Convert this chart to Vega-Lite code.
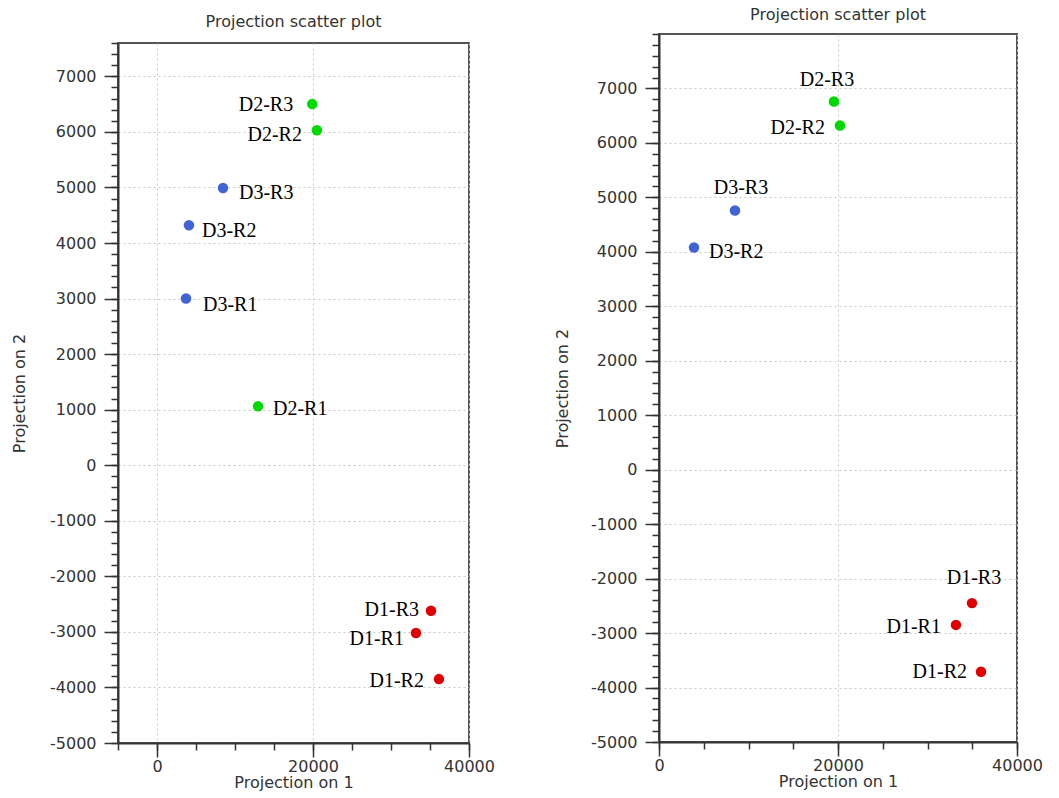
{
  "$schema": "https://vega.github.io/schema/vega-lite/v6.json",
  "padding": {"left": 10, "top": 6, "right": 5, "bottom": 5},
  "background": "white",
  "config": {
    "font": "DejaVu Sans",
    "view": {"stroke": "#555555", "strokeWidth": 2},
    "title": {"font": "DejaVu Sans", "fontSize": 16, "fontWeight": "normal", "color": "#333333", "anchor": "middle"},
    "axis": {
      "labelFont": "DejaVu Sans", "labelFontSize": 16, "labelColor": "#333333",
      "titleFont": "DejaVu Sans", "titleFontSize": 16, "titleFontWeight": "normal", "titleColor": "#333333",
      "domainColor": "#333333", "domainWidth": 2,
      "tickColor": "#333333", "tickWidth": 1.5,
      "gridColor": "#c8c8c8", "gridDash": [2, 3], "gridWidth": 1,
      "labelFlush": false, "labelOverlap": false, "labelBound": false
    },
    "text": {"font": "Liberation Serif", "fontSize": 20, "color": "#000000", "baseline": "middle"}
  },
  "datasets": {
    "left": [
      {"label": "D1-R1", "group": "D1", "p1": 33200, "p2": -3020},
      {"label": "D1-R2", "group": "D1", "p1": 36150, "p2": -3850},
      {"label": "D1-R3", "group": "D1", "p1": 35130, "p2": -2620},
      {"label": "D2-R1", "group": "D2", "p1": 12950, "p2": 1060},
      {"label": "D2-R2", "group": "D2", "p1": 20500, "p2": 6030},
      {"label": "D2-R3", "group": "D2", "p1": 19900, "p2": 6500},
      {"label": "D3-R1", "group": "D3", "p1": 3720, "p2": 3000},
      {"label": "D3-R2", "group": "D3", "p1": 4100, "p2": 4320},
      {"label": "D3-R3", "group": "D3", "p1": 8460, "p2": 4990}
    ],
    "right": [
      {"label": "D1-R1", "group": "D1", "p1": 33180, "p2": -2850},
      {"label": "D1-R2", "group": "D1", "p1": 35980, "p2": -3710},
      {"label": "D1-R3", "group": "D1", "p1": 34970, "p2": -2450},
      {"label": "D2-R2", "group": "D2", "p1": 20220, "p2": 6320},
      {"label": "D2-R3", "group": "D2", "p1": 19550, "p2": 6760},
      {"label": "D3-R2", "group": "D3", "p1": 3910, "p2": 4080},
      {"label": "D3-R3", "group": "D3", "p1": 8490, "p2": 4760}
    ]
  },
  "spacing": 57,
  "hconcat": [
    {
      "spacing": 6,
      "vconcat": [
        {
          "data": {"values": []},
          "mark": "rule",
          "encoding": {},
          "width": 351,
          "height": 1,
          "view": {"stroke": null},
          "title": {"text": "Projection scatter plot", "offset": -9, "baseline": "alphabetic"}
        },
        {
          "data": {"name": "left"},
          "width": 351,
          "height": 700,
          "layer": [
            {
              "mark": {"type": "circle", "size": 110, "opacity": 1},
              "encoding": {
                "x": {"field": "p1", "type": "quantitative",
                  "scale": {"domain": [-5000, 40000], "nice": false, "zero": false},
                  "axis": {"values": [0, 20000, 40000], "tickSize": 14, "labelPadding": 1, "title": "Projection on 1", "titlePadding": 0, "grid": true, "format": "d"}},
                "y": {"field": "p2", "type": "quantitative",
                  "scale": {"domain": [-5000, 7600], "nice": false, "zero": false},
                  "axis": {"values": [-5000, -4000, -3000, -2000, -1000, 0, 1000, 2000, 3000, 4000, 5000, 6000, 7000], "tickSize": 14, "labelPadding": 8, "title": "Projection on 2", "titlePadding": 22, "grid": true, "labelExpr": "replace(format(datum.value, 'd'), '\u2212', '-')"}},
                "color": {"field": "group", "type": "nominal", "scale": {"domain": ["D1", "D2", "D3"], "range": ["#e10000", "#00d900", "#4163d6"]}, "legend": null}
              }
            },
            {
              "mark": {"type": "point", "opacity": 0},
              "encoding": {
                "x": {"field": "p1", "type": "quantitative",
                  "axis": {"orient": "bottom", "values": [-5000, 0, 5000, 10000, 15000, 20000, 25000, 30000, 35000, 40000], "tickSize": 7, "labels": false, "domain": false, "grid": false, "title": null}},
                "y": {"field": "p2", "type": "quantitative",
                  "axis": {"orient": "left", "values": [-5000, -4800, -4600, -4400, -4200, -4000, -3800, -3600, -3400, -3200, -3000, -2800, -2600, -2400, -2200, -2000, -1800, -1600, -1400, -1200, -1000, -800, -600, -400, -200, 0, 200, 400, 600, 800, 1000, 1200, 1400, 1600, 1800, 2000, 2200, 2400, 2600, 2800, 3000, 3200, 3400, 3600, 3800, 4000, 4200, 4400, 4600, 4800, 5000, 5200, 5400, 5600, 5800, 6000, 6200, 6400, 6600, 6800, 7000, 7200, 7400, 7600], "tickSize": 7, "labels": false, "domain": false, "grid": false, "title": null}}
              }
            },
            {
              "encoding": {
                "x": {"field": "p1", "type": "quantitative", "axis": null},
                "y": {"field": "p2", "type": "quantitative", "axis": null},
                "text": {"field": "label", "type": "nominal"}
              },
              "layer": [
                {"transform": [{"filter": "datum.label === 'D2-R3'"}], "mark": {"type": "text", "align": "right", "dx": -19, "dy": 1}},
                {"transform": [{"filter": "datum.label === 'D2-R2'"}], "mark": {"type": "text", "align": "right", "dx": -15, "dy": 5}},
                {"transform": [{"filter": "datum.label === 'D3-R3'"}], "mark": {"type": "text", "align": "left", "dx": 16, "dy": 5}},
                {"transform": [{"filter": "datum.label === 'D3-R2'"}], "mark": {"type": "text", "align": "left", "dx": 13, "dy": 6}},
                {"transform": [{"filter": "datum.label === 'D3-R1'"}], "mark": {"type": "text", "align": "left", "dx": 17, "dy": 6}},
                {"transform": [{"filter": "datum.label === 'D2-R1'"}], "mark": {"type": "text", "align": "left", "dx": 15, "dy": 3}},
                {"transform": [{"filter": "datum.label === 'D1-R3'"}], "mark": {"type": "text", "align": "right", "dx": -12, "dy": -1}},
                {"transform": [{"filter": "datum.label === 'D1-R1'"}], "mark": {"type": "text", "align": "right", "dx": -12, "dy": 6}},
                {"transform": [{"filter": "datum.label === 'D1-R2'"}], "mark": {"type": "text", "align": "right", "dx": -15, "dy": 2}}
              ]
            }
          ],
          "resolve": {"axis": {"x": "independent", "y": "independent"}}
        }
      ]
    },
    {
      "data": {"name": "right"},
      "width": 358,
      "height": 708,
      "title": {"text": "Projection scatter plot", "offset": -3, "baseline": "alphabetic"},
      "layer": [
        {
          "mark": {"type": "circle", "size": 110, "opacity": 1},
          "encoding": {
            "x": {"field": "p1", "type": "quantitative",
              "scale": {"domain": [0, 40000], "nice": false, "zero": false},
              "axis": {"values": [0, 20000, 40000], "tickSize": 14, "labelPadding": 1, "title": "Projection on 1", "titlePadding": 0, "grid": true, "format": "d"}},
            "y": {"field": "p2", "type": "quantitative",
              "scale": {"domain": [-5000, 8000], "nice": false, "zero": false},
              "axis": {"values": [-5000, -4000, -3000, -2000, -1000, 0, 1000, 2000, 3000, 4000, 5000, 6000, 7000], "tickSize": 14, "labelPadding": 8, "title": "Projection on 2", "titlePadding": 20, "grid": true, "labelExpr": "replace(format(datum.value, 'd'), '\u2212', '-')"}},
            "color": {"field": "group", "type": "nominal", "scale": {"domain": ["D1", "D2", "D3"], "range": ["#e10000", "#00d900", "#4163d6"]}, "legend": null}
          }
        },
        {
          "mark": {"type": "point", "opacity": 0},
          "encoding": {
            "x": {"field": "p1", "type": "quantitative",
              "axis": {"orient": "bottom", "values": [0, 5000, 10000, 15000, 20000, 25000, 30000, 35000, 40000], "tickSize": 7, "labels": false, "domain": false, "grid": false, "title": null}},
            "y": {"field": "p2", "type": "quantitative",
              "axis": {"orient": "left", "values": [-5000, -4800, -4600, -4400, -4200, -4000, -3800, -3600, -3400, -3200, -3000, -2800, -2600, -2400, -2200, -2000, -1800, -1600, -1400, -1200, -1000, -800, -600, -400, -200, 0, 200, 400, 600, 800, 1000, 1200, 1400, 1600, 1800, 2000, 2200, 2400, 2600, 2800, 3000, 3200, 3400, 3600, 3800, 4000, 4200, 4400, 4600, 4800, 5000, 5200, 5400, 5600, 5800, 6000, 6200, 6400, 6600, 6800, 7000, 7200, 7400, 7600, 7800, 8000], "tickSize": 7, "labels": false, "domain": false, "grid": false, "title": null}}
          }
        },
        {
          "encoding": {
            "x": {"field": "p1", "type": "quantitative", "axis": null},
            "y": {"field": "p2", "type": "quantitative", "axis": null},
            "text": {"field": "label", "type": "nominal"}
          },
          "layer": [
            {"transform": [{"filter": "datum.label === 'D2-R3'"}], "mark": {"type": "text", "align": "center", "dx": -7, "dy": -22}},
            {"transform": [{"filter": "datum.label === 'D2-R2'"}], "mark": {"type": "text", "align": "right", "dx": -15, "dy": 3}},
            {"transform": [{"filter": "datum.label === 'D3-R3'"}], "mark": {"type": "text", "align": "center", "dx": 6, "dy": -22}},
            {"transform": [{"filter": "datum.label === 'D3-R2'"}], "mark": {"type": "text", "align": "left", "dx": 15, "dy": 5}},
            {"transform": [{"filter": "datum.label === 'D1-R3'"}], "mark": {"type": "text", "align": "center", "dx": 2, "dy": -25}},
            {"transform": [{"filter": "datum.label === 'D1-R1'"}], "mark": {"type": "text", "align": "right", "dx": -15, "dy": 2}},
            {"transform": [{"filter": "datum.label === 'D1-R2'"}], "mark": {"type": "text", "align": "right", "dx": -14, "dy": 0}}
          ]
        }
      ],
      "resolve": {"axis": {"x": "independent", "y": "independent"}}
    }
  ]
}
